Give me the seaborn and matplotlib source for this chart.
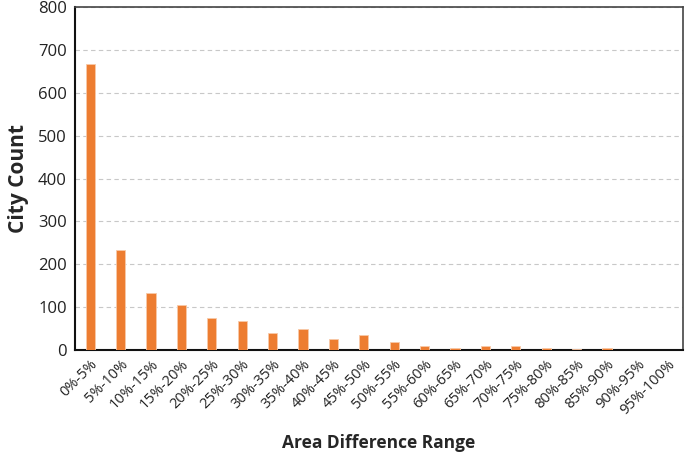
import matplotlib
matplotlib.use('Agg')
import matplotlib.pyplot as plt
import seaborn as sns
import pandas as pd

ranges = ['0%-5%', '5%-10%', '10%-15%', '15%-20%', '20%-25%', '25%-30%', '30%-35%',
          '35%-40%', '40%-45%', '45%-50%', '50%-55%', '55%-60%', '60%-65%', '65%-70%',
          '70%-75%', '75%-80%', '80%-85%', '85%-90%', '90%-95%', '95%-100%']
counts = [667, 233, 132, 105, 74, 68, 40, 48, 25, 35, 18, 10, 4, 9, 9, 4, 2, 5, 0, 0]

df = pd.DataFrame({'range': ranges, 'count': counts})

sns.set_style('white')
plt.rcParams['font.family'] = ['Open Sans', 'DejaVu Sans']

fig = plt.figure(figsize=(6.85, 4.53), dpi=100)
ax = fig.add_axes([0.1095, 0.2274, 0.8875, 0.757])

sns.barplot(data=df, x='range', y='count', color='#ED7D31', width=0.3,
            saturation=1, edgecolor='#F8C9A8', linewidth=0.6, ax=ax, zorder=3)

ax.set_ylim(0, 800)
ax.set_xlim(-0.5, len(ranges) - 0.5)
ax.set_yticks(range(0, 801, 100))
ax.yaxis.grid(True, linestyle=(0, (4, 3)), color='#C8C8C8', linewidth=0.8, zorder=0)
ax.xaxis.grid(False)

ax.tick_params(axis='y', labelsize=12, colors='#222222', length=0, pad=6)
ax.tick_params(axis='x', labelsize=10.5, colors='#222222', length=0, pad=5)
plt.setp(ax.get_xticklabels(), rotation=45, ha='right', rotation_mode='anchor')

for s in ['left', 'bottom']:
    ax.spines[s].set_color('#111111')
    ax.spines[s].set_linewidth(1.5)
for s in ['top', 'right']:
    ax.spines[s].set_color('#444444')
    ax.spines[s].set_linewidth(1.2)

ax.set_ylabel('City Count', fontsize=15, fontweight='bold', labelpad=6)
ax.set_xlabel('Area Difference Range', fontsize=12.5, fontweight='bold', labelpad=12)

fig.savefig('out.png', dpi=100)
